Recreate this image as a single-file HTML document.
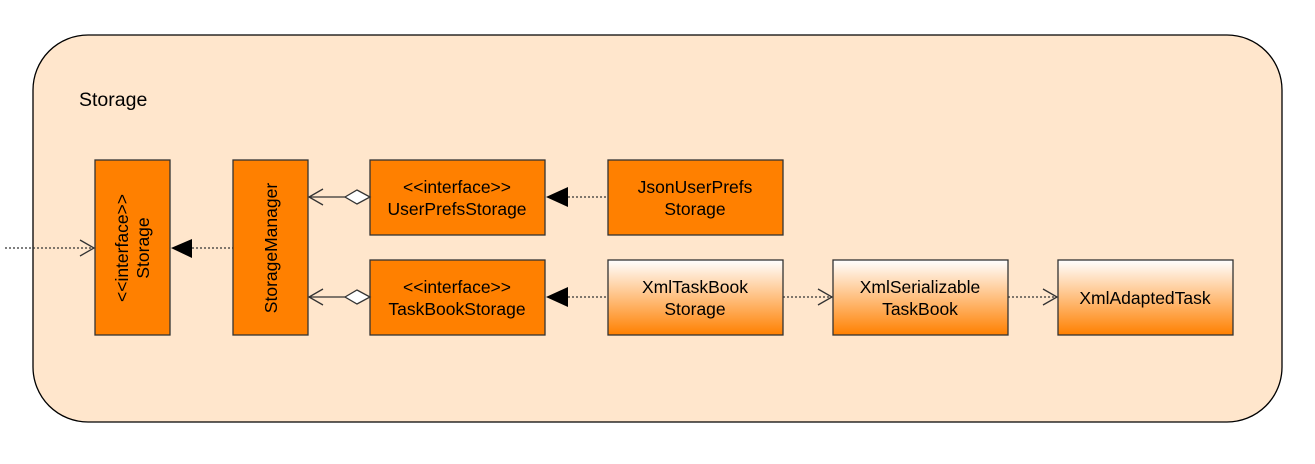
<!DOCTYPE html>
<html><head><meta charset="utf-8"><style>html,body{margin:0;padding:0;background:#fff}</style></head><body>
<svg width="1315" height="459" viewBox="0 0 1315 459" xmlns="http://www.w3.org/2000/svg" font-family="Liberation Sans, Arial, sans-serif" font-size="17.5">
<defs>
<linearGradient id="g" x1="0" y1="0" x2="0" y2="1"><stop offset="0" stop-color="#ffffff"/><stop offset="1" stop-color="#ff8000"/></linearGradient>
</defs>
<rect x="33" y="35" width="1249" height="387" rx="55" ry="55" fill="#ffe6cc" stroke="#000" stroke-width="1.3"/>
<text x="79" y="106" font-size="19.5">Storage</text>
<g stroke="#333" stroke-width="1.3">
<rect x="95" y="160" width="75" height="175" fill="#ff8000"/>
<rect x="233" y="160" width="75" height="175" fill="#ff8000"/>
<rect x="370" y="160" width="175" height="75" fill="#ff8000"/>
<rect x="370" y="260" width="175" height="75" fill="#ff8000"/>
<rect x="608" y="160" width="175" height="75" fill="#ff8000"/>
<rect x="608" y="260" width="175" height="75" fill="url(#g)"/>
<rect x="833" y="260" width="175" height="75" fill="url(#g)"/>
<rect x="1058" y="260" width="175" height="75" fill="url(#g)"/>
</g>
<g fill="none" stroke="#333" stroke-width="1.2" stroke-dasharray="2,2">
<line x1="5" y1="248" x2="94" y2="248"/>
<line x1="192" y1="248" x2="233" y2="248"/>
<line x1="568" y1="197" x2="608" y2="197"/>
<line x1="568" y1="297" x2="608" y2="297"/>
<line x1="783" y1="297" x2="832" y2="297"/>
<line x1="1008" y1="297" x2="1057" y2="297"/>
</g>
<g fill="none" stroke="#333" stroke-width="1.3">
<polyline points="80,240 94,248 80,256"/>
<polyline points="818,289 832,297 818,305"/>
<polyline points="1043,289 1057,297 1043,305"/>
<line x1="309" y1="197" x2="345" y2="197"/>
<line x1="309" y1="297" x2="345" y2="297"/>
<polyline points="323,189 309,197 323,205"/>
<polyline points="323,289 309,297 323,305"/>
<polygon points="345,197 357,190 370,197 357,204" fill="#fff"/>
<polygon points="345,297 357,290 370,297 357,304" fill="#fff"/>
</g>
<g fill="#000">
<polygon points="171,248 192,239 192,258"/>
<polygon points="546,197 568,187 568,207"/>
<polygon points="546,297 568,287 568,307"/>
</g>
<g text-anchor="middle" fill="#000">
<text transform="translate(132,248) rotate(-90)"><tspan x="0" y="-4">&lt;&lt;interface&gt;&gt;</tspan><tspan x="0" y="17">Storage</tspan></text>
<text transform="translate(277,248) rotate(-90)">StorageManager</text>
<text x="457" y="193">&lt;&lt;interface&gt;&gt;</text><text x="457" y="215">UserPrefsStorage</text>
<text x="457" y="293">&lt;&lt;interface&gt;&gt;</text><text x="457" y="315">TaskBookStorage</text>
<text x="695" y="193">JsonUserPrefs</text><text x="695" y="215">Storage</text>
<text x="695" y="293">XmlTaskBook</text><text x="695" y="315">Storage</text>
<text x="920" y="293">XmlSerializable</text><text x="920" y="315">TaskBook</text>
<text x="1145" y="304">XmlAdaptedTask</text>
</g>
</svg>
</body></html>
